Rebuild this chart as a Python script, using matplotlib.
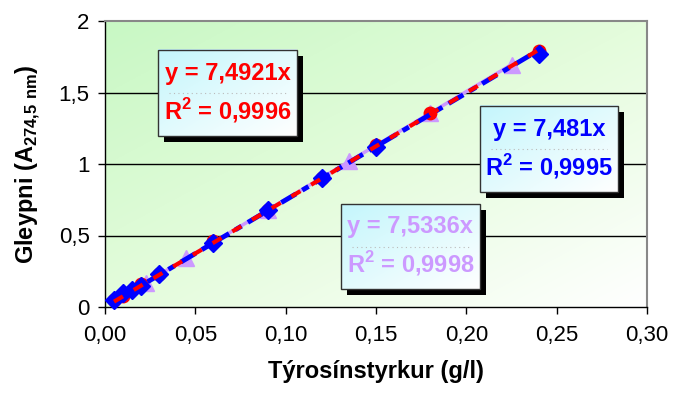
import numpy as np
import matplotlib
matplotlib.use("Agg")
import matplotlib.pyplot as plt
from matplotlib.patches import Rectangle
from matplotlib.colors import LinearSegmentedColormap

plt.rcParams['font.family'] = ['Liberation Sans', 'DejaVu Sans']
plt.rcParams['mathtext.fontset'] = 'custom'
plt.rcParams['mathtext.rm'] = 'Liberation Sans'
plt.rcParams['mathtext.bf'] = 'Liberation Sans:bold'

# data
x_red = [0.005, 0.01, 0.02, 0.03, 0.06, 0.09, 0.12, 0.15, 0.18, 0.24]
y_red = [0.05, 0.08, 0.16, 0.23, 0.46, 0.68, 0.90, 1.13, 1.36, 1.79]
x_blue = [0.005, 0.01, 0.015, 0.02, 0.03, 0.06, 0.09, 0.12, 0.15, 0.24]
y_blue = [0.05, 0.10, 0.12, 0.15, 0.23, 0.45, 0.68, 0.90, 1.12, 1.77]
x_lilac = [0.0225, 0.045, 0.09, 0.135, 0.18, 0.225]
y_lilac = [0.17, 0.34, 0.68, 1.02, 1.36, 1.69]

slope_red, r2_red = 7.4921, "0,9996"
slope_blue, r2_blue = 7.481, "0,9995"
slope_lilac, r2_lilac = 7.5336, "0,9998"

xticks = [0.0, 0.05, 0.10, 0.15, 0.20, 0.25, 0.30]
yticks = [0, 0.5, 1, 1.5, 2]

RED = '#ff0000'
BLUE = '#0000ff'
LILAC = '#cc99ff'


def fmt(v, dec):
    s = f"{v:.{dec}f}".replace('.', ',')
    return s


fig = plt.figure(figsize=(6.73, 3.97), dpi=100)
ax = fig.add_axes([105 / 673, 90 / 397, 542 / 673, 286 / 397])

# plot area gradient, light green top-left to white bottom-right
gx, gy = np.meshgrid(np.linspace(0, 1, 200), np.linspace(1, 0, 200))
g = np.clip((gx + (1 - gy)) / 2.0, 0, 1)
bg_cmap = LinearSegmentedColormap.from_list('bg', ['#c8f8c4', '#e4fcdc', '#ffffff'])
ax.imshow(g, cmap=bg_cmap, extent=[0, 1, 0, 1], transform=ax.transAxes,
          aspect='auto', zorder=0, interpolation='bilinear')

ax.set_xlim(0, 0.30)
ax.set_ylim(0, 2)
ax.set_xticks(xticks)
ax.set_xticklabels([fmt(v, 2) for v in xticks])
ax.set_yticks(yticks)
ax.set_yticklabels(['0', '0,5', '1', '1,5', '2'])
ax.tick_params(direction='out', length=5, width=1, labelsize=16, pad=8)
ax.tick_params(axis='y', pad=6)
for v in yticks[1:-1]:
    ax.axhline(v, color='black', lw=1, zorder=1)
for side in ['top', 'right']:
    ax.spines[side].set_color('#888888')
    ax.spines[side].set_linewidth(1.5)
for side in ['left', 'bottom']:
    ax.spines[side].set_color('black')
    ax.spines[side].set_linewidth(1)

# trendlines
def trend(xs, slope):
    xx = np.array([min(xs), max(xs)])
    return xx, slope * xx

tx, ty = trend(x_lilac, slope_lilac)
ax.plot(tx, ty, color=LILAC, lw=2.5, zorder=3)
ax.plot(x_lilac, y_lilac, '^', color=LILAC, ms=11, zorder=4, clip_on=False)

ax.plot(x_red, y_red, 'o', color=RED, ms=9, zorder=4, clip_on=False)
ax.plot(x_blue, y_blue, 'D', color=BLUE, ms=9, zorder=5, clip_on=False)

tx, ty = trend(x_blue, slope_blue)
ax.plot(tx, ty, color=BLUE, lw=3.5, dashes=(3.5, 1.5, 1.5, 1.5), zorder=6)
tx, ty = trend(x_red, slope_red)
ax.plot(tx, ty, color=RED, lw=3, dashes=(2.5, 3), zorder=7)

# equation boxes
box_cmap = LinearSegmentedColormap.from_list('bx', ['#c4f6fc', '#ffffff'])


def eq_box(x0, x1, y0, y1, slope_txt, r2_txt, color):
    W, H = 542.0, 286.0
    dx, dy = 6 / W, 6 / H
    ax.add_patch(Rectangle((x0 + dx, y0 - dy), x1 - x0, y1 - y0, transform=ax.transAxes,
                           facecolor='black', edgecolor='none', zorder=8))
    ax.imshow(g, cmap=box_cmap, extent=[x0, x1, y0, y1], transform=ax.transAxes,
              aspect='auto', zorder=9, interpolation='bilinear')
    ax.add_patch(Rectangle((x0, y0), x1 - x0, y1 - y0, transform=ax.transAxes,
                           facecolor='none', edgecolor='#333333', lw=1, zorder=10))
    ym = (y0 + y1) / 2
    ax.plot([x0 + 0.02, x1 - 0.02], [ym, ym], transform=ax.transAxes, color='#bbbbbb',
            lw=0.8, ls=(0, (1, 3)), zorder=10)
    xc = (x0 + x1) / 2
    hh = y1 - y0
    ax.text(xc, y1 - hh * 0.27, f"y = {slope_txt}x", transform=ax.transAxes, ha='center',
            va='center', fontsize=17, fontweight='bold', color=color, zorder=11)
    ax.text(xc, y0 + hh * 0.30, r"R$^\mathbf{2}$ = " + r2_txt, transform=ax.transAxes,
            ha='center', va='center', fontsize=17, fontweight='bold', color=color, zorder=11)


eq_box(0.098, 0.354, 0.598, 0.899, fmt(slope_red, 4), r2_red, RED)
eq_box(0.692, 0.946, 0.402, 0.703, fmt(slope_blue, 3), r2_blue, BLUE)
eq_box(0.435, 0.692, 0.063, 0.360, fmt(slope_lilac, 4), r2_lilac, LILAC)

ax.set_xlabel("Týrosínstyrkur (g/l)", fontsize=17, fontweight='bold', labelpad=10)
ax.set_ylabel(r"Gleypni (A$_{\mathbf{274{,}5\ nm}}$)", fontsize=17, fontweight='bold',
              labelpad=12)

fig.savefig("out.png", dpi=100)
